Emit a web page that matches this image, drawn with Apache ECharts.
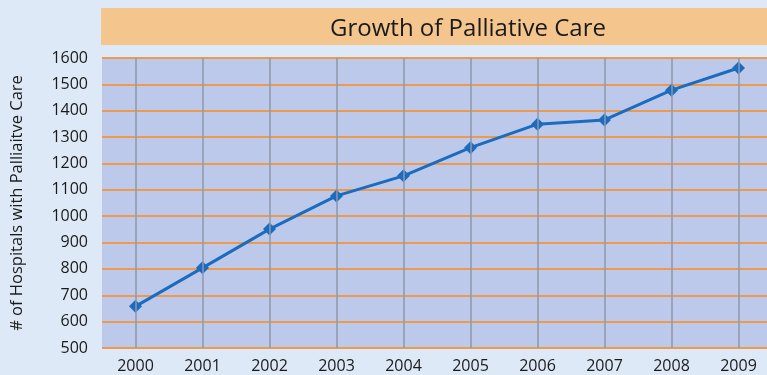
<!DOCTYPE html>
<html>
<head>
<meta charset="utf-8">
<script src="https://cdn.jsdelivr.net/npm/echarts@6/dist/echarts.min.js"></script>
<style>
html, body { margin: 0; padding: 0; background: #dde9f6; }
#chart { width: 767px; height: 375px; }
</style>
</head>
<body>
<div id="chart"></div>
<script>
var years = ['2000','2001','2002','2003','2004','2005','2006','2007','2008','2009'];
var hospitals = [658, 804, 951, 1077, 1153, 1260, 1349, 1365, 1478, 1562];
var chartTitle = 'Growth of Palliative Care';
var yName = '# of Hospitals with Palliaitve Care';

var chart = echarts.init(document.getElementById('chart'));

var option = {
	backgroundColor: '#dde9f6',
	animation: false,
	title: {
		text: chartTitle,
		left: 463,
		top: 12,
		textAlign: 'center',
		textStyle: {
			fontFamily: 'Open Sans',
			fontSize: 24,
			fontWeight: 'normal',
			color: '#1a1a1a'
		}
	},
	graphic: [{
		type: 'rect',
		z: -1,
		shape: { x: 101, y: 8, width: 670, height: 37 },
		style: { fill: '#f4c58d' }
	}],
	grid: {
		left: 102,
		top: 58,
		width: 670,
		height: 290,
		outerBoundsMode: 'none',
		show: true,
		backgroundColor: '#bdc9ea',
		borderWidth: 0
	},
	xAxis: {
		type: 'category',
		data: years,
		boundaryGap: true,
		axisLine: { show: false },
		axisTick: { show: false },
		axisLabel: {
			margin: 10,
			fontFamily: 'Open Sans',
			fontSize: 16,
			color: '#1a1a1a'
		},
		splitLine: { show: false }
	},
	yAxis: {
		type: 'value',
		min: 500,
		max: 1600,
		interval: 100,
		name: yName,
		nameLocation: 'middle',
		nameGap: 76,
		nameTextStyle: {
			fontFamily: 'Open Sans',
			fontSize: 16.5,
			color: '#1a1a1a'
		},
		axisLine: { show: false },
		axisTick: { show: false },
		axisLabel: {
			margin: 14,
			fontFamily: 'Open Sans',
			fontSize: 16,
			color: '#1a1a1a',
			formatter: function(v){ return String(v); }
		},
		splitLine: { lineStyle: { color: '#ee9a4c', width: 2 } }
	},
	series: [
		{
			// vertical grey lines at each year
			type: 'bar',
			data: years.map(function(){ return 0; }),
			silent: true,
			markLine: {
				symbol: 'none',
				silent: true,
				label: { show: false },
				lineStyle: { color: '#8e97ab', width: 1.5, type: 'solid' },
				data: years.map(function(y){ return { xAxis: y }; })
			}
		},
		{
			type: 'line',
			data: hospitals,
			symbol: 'diamond',
			symbolSize: 13,
			lineStyle: { color: '#1b6cbf', width: 3 },
			itemStyle: { color: '#1b6cbf', borderWidth: 0 }
		}
	]
};
chart.setOption(option);
</script>
</body>
</html>
